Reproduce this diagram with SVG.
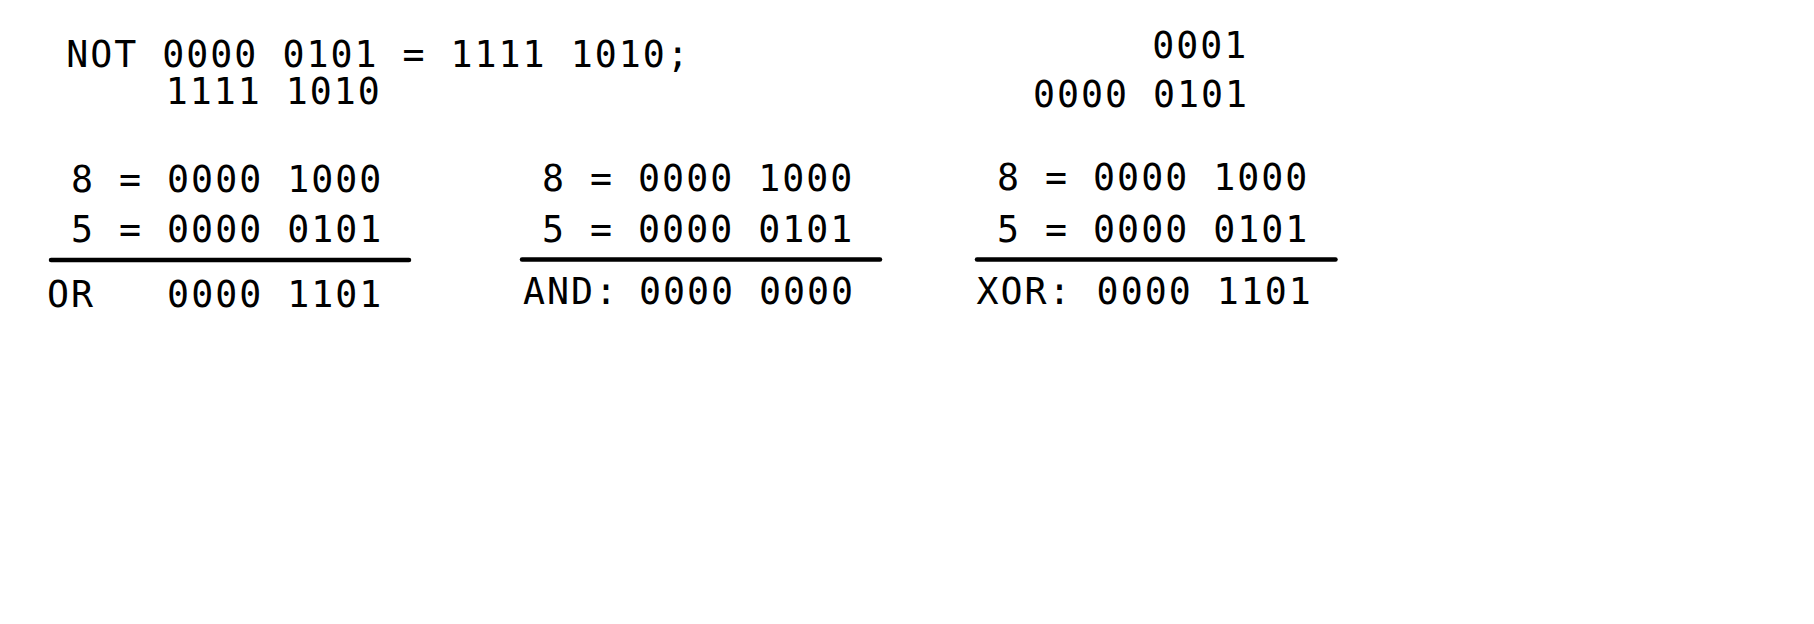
<svg xmlns="http://www.w3.org/2000/svg" width="1814" height="624" viewBox="0 0 1814 624">
<style>
text{font-family:"DejaVu Sans Mono","Liberation Mono",monospace;font-size:36.6px;letter-spacing:2px;fill:#000;white-space:pre}
.rule{stroke:#000;stroke-width:4.5;stroke-linecap:round}
</style>
<rect width="1814" height="624" fill="#fff"/>
<g id="not">
<text x="66.2" y="67" xml:space="preserve">NOT 0000 0101 = 1111 1010;</text>
<text x="165.7" y="103.5">1111 1010</text>
</g>
<g id="shift">
<text x="1152.2" y="58.3">0001</text>
<text x="1032.9" y="107.3" xml:space="preserve">0000 0101</text>
</g>
<g id="or">
<text x="71" y="191.5" xml:space="preserve">8 = 0000 1000</text>
<text x="71" y="241.7" xml:space="preserve">5 = 0000 0101</text>
<line class="rule" x1="51" y1="260" x2="409" y2="260"/>
<text x="47" y="306.5" xml:space="preserve">OR   0000 1101</text>
</g>
<g id="and">
<text x="542" y="190.8" xml:space="preserve">8 = 0000 1000</text>
<text x="542" y="241.7" xml:space="preserve">5 = 0000 0101</text>
<line class="rule" x1="522" y1="259.5" x2="880" y2="259.5"/>
<text y="303.5"><tspan x="523">AND:</tspan><tspan x="638.9">0000 0000</tspan></text>
</g>
<g id="xor">
<text x="997" y="189.5" xml:space="preserve">8 = 0000 1000</text>
<text x="997" y="241.7" xml:space="preserve">5 = 0000 0101</text>
<line class="rule" x1="977" y1="259.5" x2="1335.5" y2="259.5"/>
<text x="976.5" y="303.5" xml:space="preserve">XOR: 0000 1101</text>
</g>
</svg>
